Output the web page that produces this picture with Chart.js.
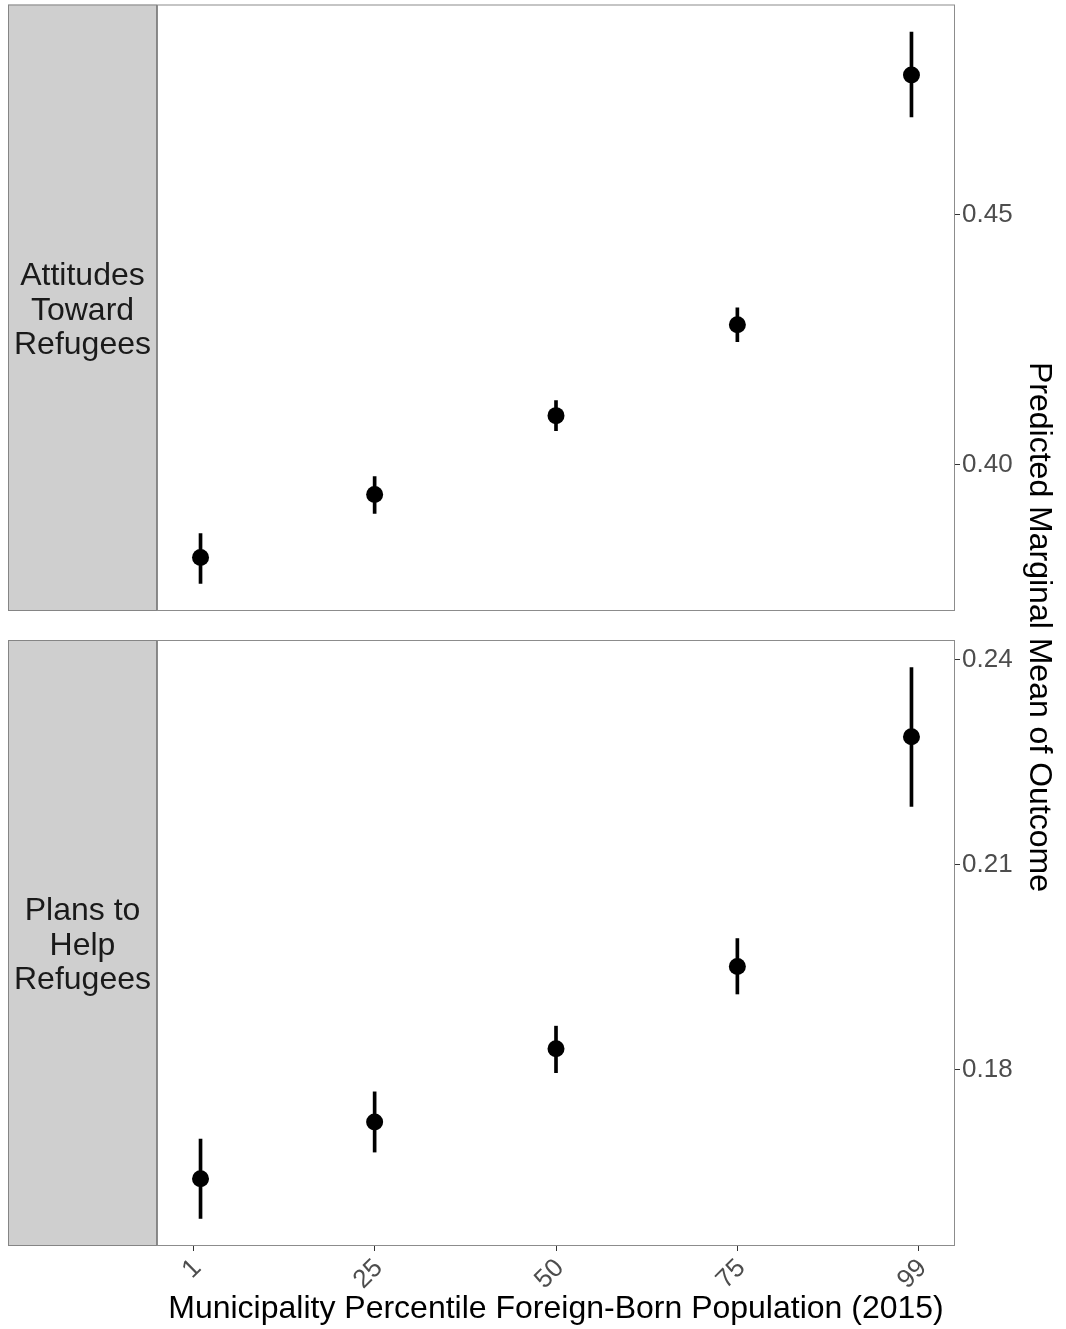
<!DOCTYPE html>
<html>
<head>
<meta charset="utf-8">
<script src="https://cdn.jsdelivr.net/npm/chart.js@4.4.1/dist/chart.umd.min.js"></script>
<style>
    html, body { margin: 0; padding: 0; background: #fff; }
    body { width: 1066px; height: 1329px; position: relative; overflow: hidden; }
    .panel { position: absolute; left: 0; width: 1066px; }
    #topBox { top: -4px; height: 629px; }
    #bottomBox { top: 625px; height: 704px; }
    #yTitle {
        position: absolute; left: 1022px; top: 627px;
        transform: translateY(-50%);
        writing-mode: vertical-rl;
        font: 32px "Liberation Sans", Arial, sans-serif;
        color: #000; white-space: nowrap;
    }
</style>
</head>
<body>
<div class="panel" id="topBox"><canvas id="topChart"></canvas></div>
<div class="panel" id="bottomBox"><canvas id="bottomChart"></canvas></div>
<div id="yTitle">Predicted Marginal Mean of Outcome</div>

<script>
// percentile groups and where their labels sit on the x axis
const percentiles = [1, 25, 50, 75, 99];
const xTickValues = [0, 25, 50, 75, 100];
const xTickLabels = ['1', '25', '50', '75', '99'];

// attitudes toward refugees: estimate and 95% interval
const attitudesMean = [0.3814, 0.3940, 0.4098, 0.4280, 0.4780];
const attitudesLow = [0.3762, 0.3902, 0.4068, 0.4246, 0.4696];
const attitudesHigh = [0.3862, 0.3976, 0.4128, 0.4314, 0.4866];
const attitudesTicks = [0.40, 0.45];

// plans to help refugees
const plansMean = [0.1641, 0.1724, 0.1831, 0.1951, 0.2287];
const plansLow = [0.1583, 0.1680, 0.1796, 0.1911, 0.2185];
const plansHigh = [0.1699, 0.1768, 0.1864, 0.1992, 0.2388];
const plansTicks = [0.18, 0.21, 0.24];

const topStrip = ['Attitudes', 'Toward', 'Refugees'];
const bottomStrip = ['Plans to', 'Help', 'Refugees'];

const FONT = '"Liberation Sans", Arial, sans-serif';

// grey facet strip on the left plus the panel frame
const stripPlugin = {
    id: 'facetStrip',
    afterDraw(chart, args, opts) {
        const ctx = chart.ctx;
        const a = chart.chartArea;
        ctx.save();
        ctx.fillStyle = '#cfcfcf';
        ctx.fillRect(8, a.top, a.left - 8, a.bottom - a.top);
        ctx.strokeStyle = '#858585';
        ctx.lineWidth = 1;
        ctx.strokeRect(8.5, a.top + 0.5, a.left - 9, a.bottom - a.top - 1);
        ctx.strokeStyle = '#8c8c8c';
        ctx.strokeRect(a.left + 0.5, a.top + 0.5, a.right - a.left - 1, a.bottom - a.top - 1);

        ctx.fillStyle = '#1a1a1a';
        ctx.font = '32px ' + FONT;
        ctx.textAlign = 'center';
        ctx.textBaseline = 'middle';
        const lines = opts.lines || [];
        const lh = 34.5;
        const cy = (a.top + a.bottom) / 2 + 3;
        const cx = (8 + a.left) / 2;
        lines.forEach((t, i) => {
            ctx.fillText(t, cx, cy + (i - (lines.length - 1) / 2) * lh);
        });
        ctx.restore();
    }
};

function yRange(low, high) {
    const lo = Math.min(...low);
    const hi = Math.max(...high);
    const pad = (hi - lo) * 0.05;
    return [lo - pad, hi + pad];
}

function makePanel(canvasId, mean, low, high, yTicks, strip, showX, pad) {
    const [ymin, ymax] = yRange(low, high);
    const ctx = document.getElementById(canvasId).getContext('2d');

    return new Chart(ctx, {
        type: 'scatter',
        data: {
            datasets: [{
                type: 'bar',
                data: percentiles.map((p, i) => ({ x: p, y: [low[i], high[i]] })),
                backgroundColor: '#000',
                borderWidth: 0,
                barThickness: 3,
                order: 2
            }, {
                type: 'scatter',
                data: percentiles.map((p, i) => ({ x: p, y: mean[i] })),
                backgroundColor: '#000',
                borderWidth: 0,
                pointRadius: 8.5,
                pointHoverRadius: 8.5,
                order: 1
            }]
        },
        options: {
            responsive: true,
            maintainAspectRatio: false,
            animation: false,
            events: [],
            layout: { padding: pad },
            plugins: {
                legend: { display: false },
                tooltip: { enabled: false },
                facetStrip: { lines: strip }
            },
            scales: {
                x: {
                    type: 'linear',
                    min: -5,
                    max: 105,
                    offset: false,
                    display: showX,
                    afterBuildTicks: s => { s.ticks = xTickValues.map(v => ({ value: v })); },
                    afterFit: s => {
                        s.paddingLeft = 0;
                        s.paddingRight = 0;
                        s.height = showX ? 83 : 0;
                    },
                    border: { display: false },
                    grid: {
                        offset: false,
                        drawOnChartArea: false,
                        drawTicks: true,
                        tickLength: 5,
                        tickColor: '#333333',
                        tickWidth: 1
                    },
                    ticks: {
                        minRotation: 45,
                        maxRotation: 45,
                        padding: 2,
                        labelOffset: 4,
                        color: '#4d4d4d',
                        font: { family: FONT, size: 26 },
                        callback: v => xTickLabels[xTickValues.indexOf(v)]
                    },
                    title: {
                        display: showX,
                        text: 'Municipality Percentile Foreign-Born Population (2015)',
                        color: '#000',
                        font: { family: FONT, size: 32 },
                        padding: { top: 0, bottom: 1 }
                    }
                },
                y: {
                    type: 'linear',
                    position: 'right',
                    min: ymin,
                    max: ymax,
                    afterBuildTicks: s => { s.ticks = yTicks.map(v => ({ value: v })); },
                    afterFit: s => { s.paddingTop = 0; s.paddingBottom = 0; s.width = 111; },
                    border: { display: false },
                    grid: {
                        drawOnChartArea: false,
                        drawTicks: true,
                        tickLength: 5,
                        tickColor: '#333333',
                        tickWidth: 1
                    },
                    ticks: {
                        padding: 2,
                        color: '#4d4d4d',
                        font: { family: FONT, size: 26 },
                        callback: v => v.toFixed(2)
                    }
                }
            }
        },
        plugins: [stripPlugin]
    });
}

makePanel('topChart', attitudesMean, attitudesLow, attitudesHigh, attitudesTicks, topStrip, false,
    { left: 157, top: 1, right: 0, bottom: 14 });
makePanel('bottomChart', plansMean, plansLow, plansHigh, plansTicks, bottomStrip, true,
    { left: 157, top: 15, right: 0, bottom: 0 });
</script>
</body>
</html>
